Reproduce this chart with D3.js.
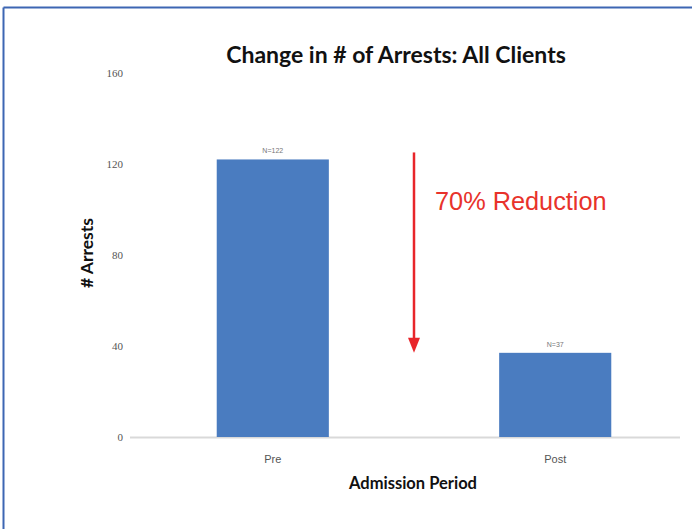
<!DOCTYPE html>
<html>
<head>
<meta charset="utf-8">
<script src="https://cdn.jsdelivr.net/npm/d3@7/dist/d3.min.js"></script>
<style>
  html, body { margin: 0; padding: 0; background: #fff; }
  svg { display: block; }
</style>
</head>
<body>
<script>
// ---- data ----
const categories = ["Pre", "Post"];
const arrests = [122, 37];
const barLabels = ["N=122", "N=37"];
const yTicks = [0, 40, 80, 120, 160];
const titleText = "Change in # of Arrests: All Clients";
const xTitle = "Admission Period";
const yTitle = "# Arrests";
const annotation = "70% Reduction";
const arrowFromTo = [122, 37]; // arrow spans roughly from Pre level to Post level

const W = 692, H = 529;
const svg = d3.select("body").append("svg").attr("width", W).attr("height", H);

// frame (blue border, top & left visible)
svg.append("line").attr("x1", 3.5).attr("x2", W).attr("y1", 7.5).attr("y2", 7.5)
  .attr("stroke", "#3d66b3").attr("stroke-width", 2);
svg.append("line").attr("x1", 3.5).attr("x2", 3.5).attr("y1", 7.5).attr("y2", H)
  .attr("stroke", "#3d66b3").attr("stroke-width", 2);

const x = d3.scaleBand().domain(categories).range([132, 696])
  .paddingInner(0.603).paddingOuter(0.3);
const y = d3.scaleLinear().domain([0, 160]).range([437, 73]);

// baseline
svg.append("line").attr("x1", 130).attr("x2", 680)
  .attr("y1", y(0) + 0.5).attr("y2", y(0) + 0.5)
  .attr("stroke", "#d9d9d9").attr("stroke-width", 2);

// y tick labels
const yAxis = d3.axisLeft(y).tickValues(yTicks).tickSize(0).tickPadding(0);
const gy = svg.append("g").attr("transform", "translate(123,0)").call(yAxis);
gy.select(".domain").remove();
gy.selectAll("text").attr("font-family", "Liberation Serif, serif")
  .attr("font-size", 11).attr("fill", "#555");

// bars
svg.selectAll("rect.bar").data(categories).enter().append("rect")
  .attr("class", "bar")
  .attr("x", d => x(d))
  .attr("y", (d, i) => y(arrests[i]))
  .attr("width", x.bandwidth())
  .attr("height", (d, i) => y(0) - y(arrests[i]))
  .attr("fill", "#4a7cc0");

// bar labels
svg.selectAll("text.blab").data(categories).enter().append("text")
  .attr("class", "blab")
  .attr("x", d => x(d) + x.bandwidth() / 2)
  .attr("y", (d, i) => y(arrests[i]) - 6)
  .attr("text-anchor", "middle")
  .attr("font-family", "Liberation Sans, sans-serif")
  .attr("font-size", 7).attr("fill", "#777")
  .text((d, i) => barLabels[i]);

// x category labels
const xAxis = d3.axisBottom(x).tickSize(0).tickPadding(0);
const gx = svg.append("g").attr("transform", `translate(0,${y(0) + 26})`).call(xAxis);
gx.select(".domain").remove();
gx.selectAll("text").attr("font-family", "Liberation Sans, sans-serif")
  .attr("font-size", 11).attr("fill", "#555").attr("dy", 0);

// title
svg.append("text").attr("x", 396).attr("y", 63).attr("text-anchor", "middle")
  .attr("font-family", "Lato, sans-serif").attr("font-weight", "bold")
  .attr("font-size", 23).attr("fill", "#111").text(titleText);

// x title
svg.append("text").attr("x", 413).attr("y", 489).attr("text-anchor", "middle")
  .attr("font-family", "Lato, sans-serif").attr("font-weight", "bold")
  .attr("font-size", 16.5).attr("fill", "#111").text(xTitle);

// y title
svg.append("text").attr("transform", "translate(93,253) rotate(-90)")
  .attr("text-anchor", "middle")
  .attr("font-family", "Lato, sans-serif").attr("font-weight", "bold")
  .attr("font-size", 17.5).attr("fill", "#111").text(yTitle);

// arrow
const ax = 414;
const yTop = y(arrowFromTo[0]) - 7, yBot = y(arrowFromTo[1]);
svg.append("line").attr("x1", ax).attr("x2", ax).attr("y1", yTop).attr("y2", yBot - 12)
  .attr("stroke", "#e8252a").attr("stroke-width", 2.5);
svg.append("path")
  .attr("d", `M${ax - 6},${yBot - 15} L${ax + 6},${yBot - 15} L${ax},${yBot} Z`)
  .attr("fill", "#e8252a");

// annotation
svg.append("text").attr("x", 435).attr("y", 210)
  .attr("font-family", "Liberation Sans, Arial, sans-serif")
  .attr("font-size", 25.3).attr("fill", "#e8322b").text(annotation);
</script>
</body>
</html>
